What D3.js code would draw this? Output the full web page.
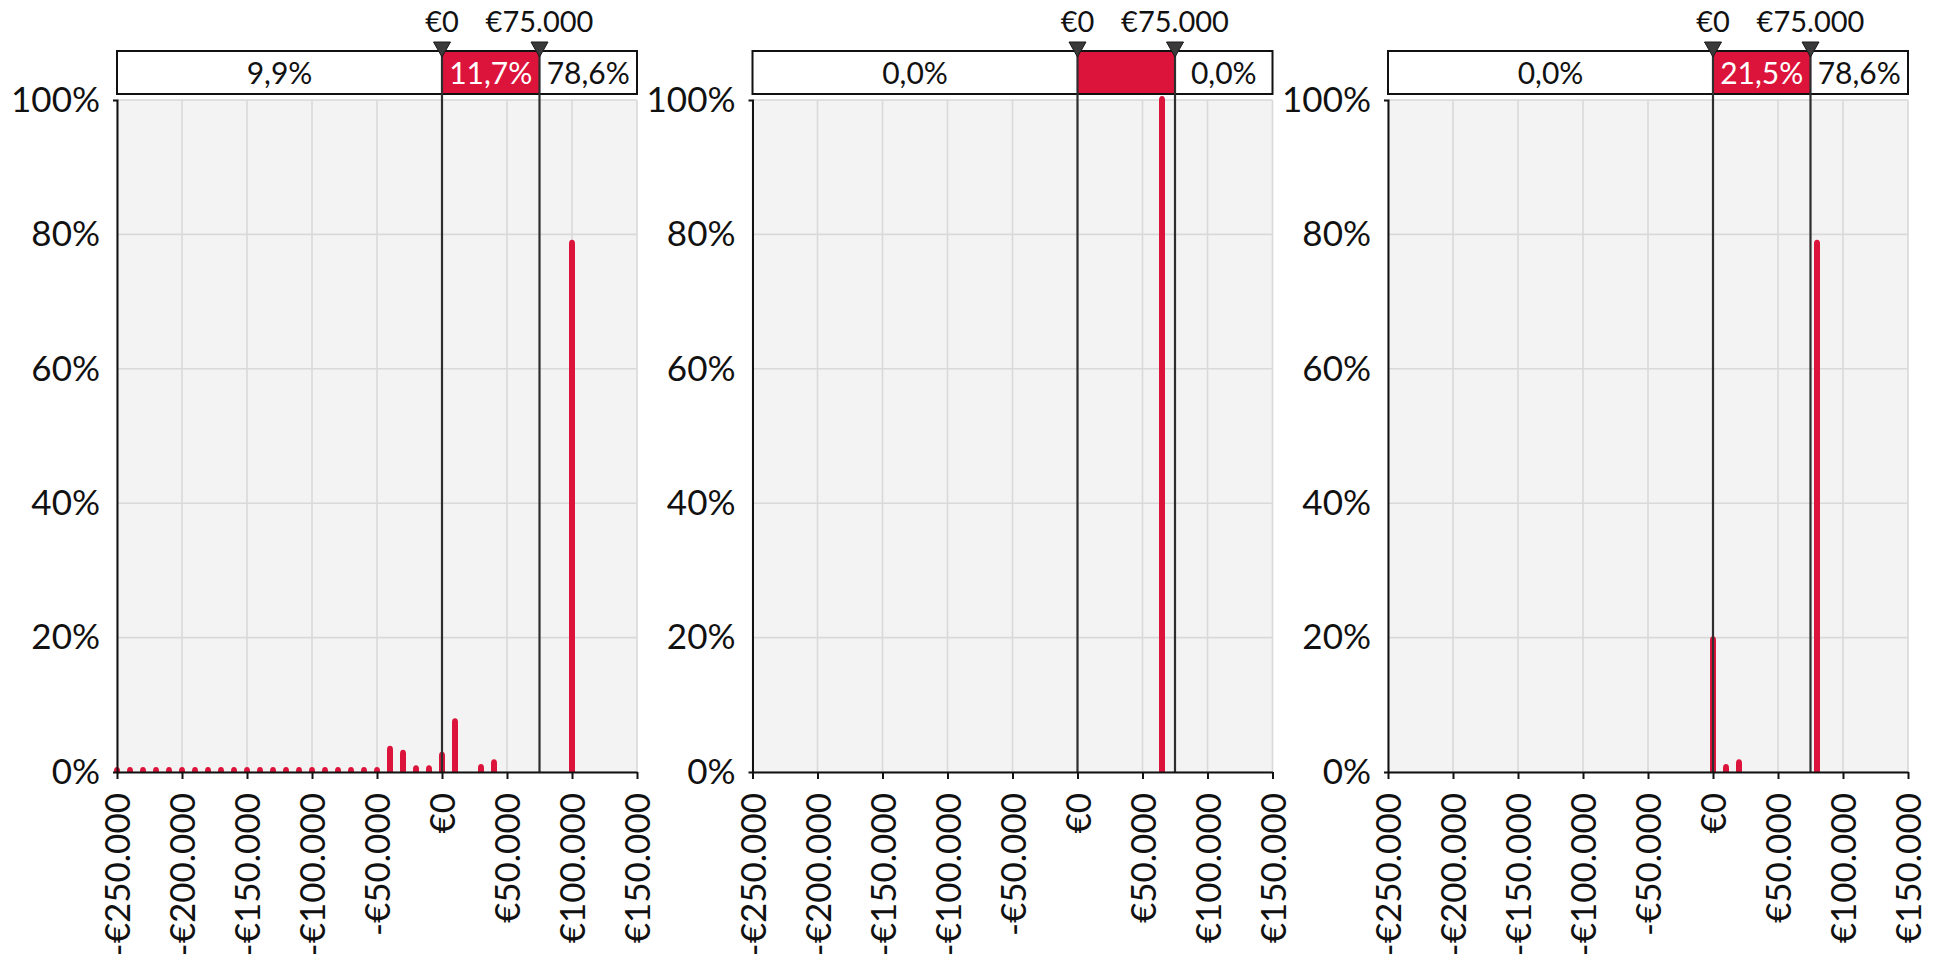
<!DOCTYPE html>
<html>
<head>
<meta charset="utf-8">
<script src="https://cdn.jsdelivr.net/npm/d3@7"></script>
<style>
  html, body { margin: 0; padding: 0; background: #ffffff; }
  svg { display: block; font-family: "Lato", "Open Sans", sans-serif; }
</style>
</head>
<body>
<svg id="chart" width="1935" height="954"></svg>
<script>
// ---------- data ----------
const xDomain = [-250000, 150000];
const xTicks = [-250000, -200000, -150000, -100000, -50000, 0, 50000, 100000, 150000];
const xTickLabels = ["-€250.000", "-€200.000", "-€150.000", "-€100.000", "-€50.000", "€0", "€50.000", "€100.000", "€150.000"];
const yTicks = [0, 20, 40, 60, 80, 100];
const yTickLabels = ["0%", "20%", "40%", "60%", "80%", "100%"];
const thresholds = [0, 75000];
const thresholdLabels = ["€0", "€75.000"];

// panel 1 : outcome (euro) and share (%)
const p1Outcomes = [-250000, -240000, -230000, -220000, -210000, -200000, -190000, -180000, -170000, -160000,
                    -150000, -140000, -130000, -120000, -110000, -100000, -90000, -80000, -70000, -60000,
                    -50000, -40000, -30000, -20000, -10000, 0, 10000, 30000, 40000, 100000];
const p1Shares   = [0.15, 0.15, 0.15, 0.15, 0.15, 0.15, 0.15, 0.15, 0.15, 0.15,
                    0.15, 0.15, 0.15, 0.15, 0.15, 0.15, 0.15, 0.15, 0.15, 0.15,
                    0.15, 3.3, 2.7, 0.4, 0.4, 2.4, 7.4, 0.6, 1.3, 78.6];
const p1BandLabels = ["9,9%", "11,7%", "78,6%"];

// panel 2
const p2Outcomes = [65000];
const p2Shares   = [100];
const p2BandLabels = ["0,0%", "", "0,0%"];

// panel 3
const p3Outcomes = [0, 10000, 20000, 80000];
const p3Shares   = [19.6, 0.6, 1.3, 78.6];
const p3BandLabels = ["0,0%", "21,5%", "78,6%"];

// ---------- layout ----------
const RED = "#DC143C";
const panelLefts = [117, 752.5, 1388];
const panelWidth = 520;
const plotTop = 100, plotBottom = 772;
const boxTop = 51, boxBottom = 94;

const panels = [
  { outcomes: p1Outcomes, shares: p1Shares, bandLabels: p1BandLabels },
  { outcomes: p2Outcomes, shares: p2Shares, bandLabels: p2BandLabels },
  { outcomes: p3Outcomes, shares: p3Shares, bandLabels: p3BandLabels }
];

const svg = d3.select("#chart");
const y = d3.scaleLinear().domain([0, 100]).range([plotBottom, plotTop]);

panels.forEach((p, i) => {
  const left = panelLefts[i];
  const x = d3.scaleLinear().domain(xDomain).range([0, panelWidth]);
  const g = svg.append("g").attr("transform", `translate(${left},0)`);

  // background
  g.append("rect").attr("x", 0).attr("y", plotTop).attr("width", panelWidth)
    .attr("height", plotBottom - plotTop).attr("fill", "#f3f3f3");

  // gridlines
  g.selectAll("line.vg").data(xTicks).enter().append("line")
    .attr("x1", d => x(d)).attr("x2", d => x(d))
    .attr("y1", plotTop).attr("y2", plotBottom)
    .attr("stroke", "#d9d9d9").attr("stroke-width", 1.6);
  g.selectAll("line.hg").data(yTicks).enter().append("line")
    .attr("x1", 0).attr("x2", panelWidth)
    .attr("y1", d => y(d)).attr("y2", d => y(d))
    .attr("stroke", "#d9d9d9").attr("stroke-width", 1.6);

  // bars (spikes with rounded tops)
  const bw = 6, cap = 4;
  const data = p.outcomes.map((o, k) => ({ o, s: p.shares[k] }));
  g.selectAll("path.bar").data(data).enter().append("path")
    .attr("fill", RED)
    .attr("d", d => {
      const cx = x(d.o), top = y(d.s);
      return `M${cx - bw / 2},${plotBottom} L${cx - bw / 2},${top} A${bw / 2},${cap} 0 0 1 ${cx + bw / 2},${top} L${cx + bw / 2},${plotBottom} Z`;
    });

  // band box
  g.append("rect").attr("x", 0).attr("y", boxTop).attr("width", panelWidth)
    .attr("height", boxBottom - boxTop).attr("fill", "#ffffff")
    .attr("stroke", "#111").attr("stroke-width", 2);
  g.append("rect").attr("x", x(thresholds[0])).attr("y", boxTop + 1)
    .attr("width", x(thresholds[1]) - x(thresholds[0]))
    .attr("height", boxBottom - boxTop - 2).attr("fill", RED);

  // band labels
  const bandCenters = [
    (0 + x(thresholds[0])) / 2,
    (x(thresholds[0]) + x(thresholds[1])) / 2,
    (x(thresholds[1]) + panelWidth) / 2
  ];
  g.selectAll("text.band").data(p.bandLabels).enter().append("text")
    .attr("x", (d, k) => bandCenters[k])
    .attr("y", (boxTop + boxBottom) / 2 + 1)
    .attr("dy", "0.35em")
    .attr("text-anchor", "middle")
    .attr("font-size", 30)
    .attr("fill", (d, k) => k === 1 ? "#ffffff" : "#111")
    .text(d => d);

  // threshold lines
  g.selectAll("line.th").data(thresholds).enter().append("line")
    .attr("x1", d => x(d)).attr("x2", d => x(d))
    .attr("y1", boxTop).attr("y2", plotBottom)
    .attr("stroke", "#2e2e2e").attr("stroke-width", 2.2);

  // triangles
  g.selectAll("path.tri").data(thresholds).enter().append("path")
    .attr("d", d => `M${x(d) - 8.5},42 L${x(d) + 8.5},42 L${x(d)},57 Z`)
    .attr("fill", "#3a3a3a").attr("stroke", "#1a1a1a").attr("stroke-width", 1);

  // threshold labels
  g.selectAll("text.thl").data(thresholds).enter().append("text")
    .attr("x", d => x(d)).attr("y", 32)
    .attr("text-anchor", "middle").attr("font-size", 29).attr("fill", "#111")
    .text((d, k) => thresholdLabels[k]);

  // y axis
  const yAxis = d3.axisLeft(y).tickValues(yTicks)
    .tickFormat((d, k) => yTickLabels[k]).tickSizeInner(0).tickSizeOuter(4).tickPadding(17);
  const ya = g.append("g").call(yAxis);
  ya.select(".domain").attr("stroke", "#111").attr("stroke-width", 2);
  ya.selectAll("text").attr("font-size", 35).attr("fill", "#111")
    .attr("font-family", "Lato, 'Open Sans', sans-serif");

  // x axis
  const xAxis = d3.axisBottom(x).tickValues(xTicks)
    .tickFormat((d, k) => xTickLabels[k]).tickSizeInner(7).tickSizeOuter(0).tickPadding(0);
  const xa = g.append("g").attr("transform", `translate(0,${plotBottom})`).call(xAxis);
  xa.select(".domain").attr("stroke", "#111").attr("stroke-width", 2.2);
  xa.selectAll(".tick line").attr("stroke", "#111").attr("stroke-width", 2);
  xa.selectAll("text")
    .attr("font-size", 35).attr("fill", "#111")
    .attr("font-family", "Lato, 'Open Sans', sans-serif")
    .attr("text-anchor", "end")
    .attr("transform", "rotate(-90)")
    .attr("x", -21).attr("y", 0).attr("dy", "0.36em");
});
</script>
</body>
</html>
